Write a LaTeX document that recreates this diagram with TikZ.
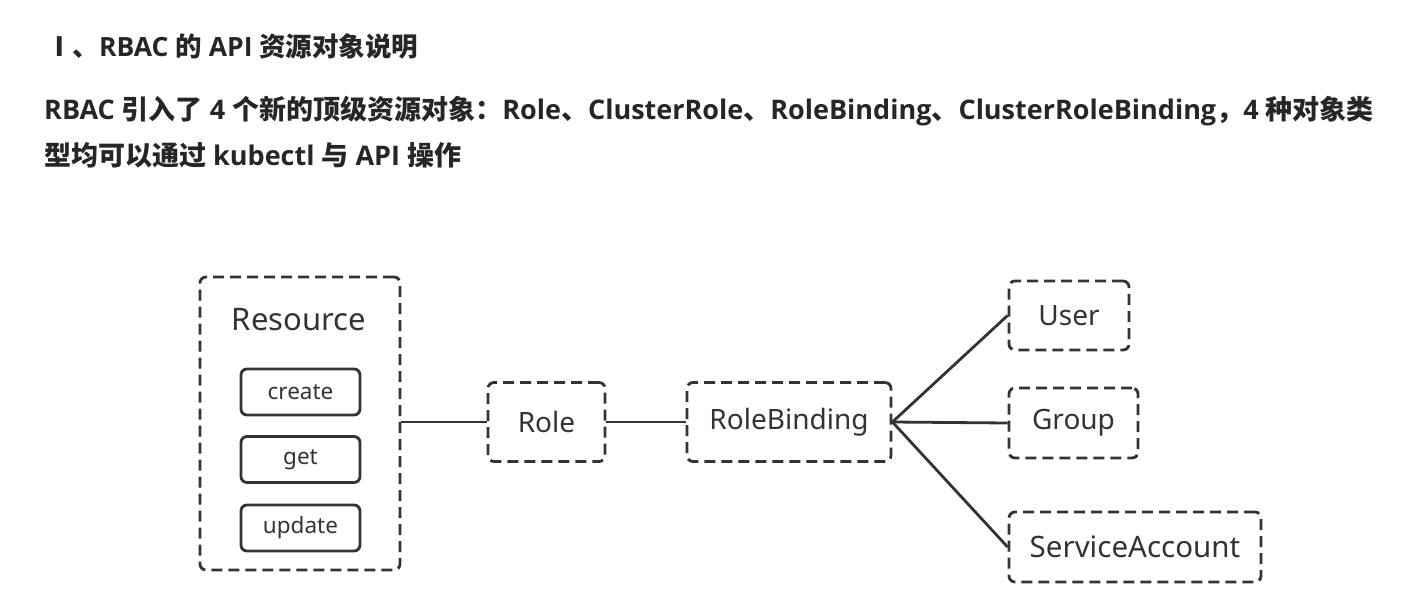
\documentclass[tikz,border=0pt]{standalone}
\usepackage{fontspec}
\setmainfont{Open Sans}
\newfontfamily\cjk{Noto Sans CJK SC}
\newfontfamily\labelfont{Noto Sans}
\newcommand{\zh}[1]{{\cjk #1}}
\definecolor{ink}{HTML}{333333}
\definecolor{textink}{HTML}{262626}

\begin{document}
\begin{tikzpicture}[x=1pt, y=-1pt,
  dashbox/.style = {draw=ink, line width=2.8pt, dash pattern=on 11pt off 6pt,
    rounded corners=6pt, text=ink, inner sep=0pt,
    font=\labelfont\fontsize{28}{30}\selectfont},
  opbox/.style = {draw=ink, line width=2.8pt, rounded corners=6pt,
    minimum width=119pt, minimum height=46pt, text=ink,
    font=\labelfont\fontsize{22.5}{24}\selectfont},
  link/.style = {draw=ink, line width=2.8pt},
  heading/.style = {anchor=west, inner sep=0pt, text=textink}]
\useasboundingbox (0,0) rectangle (1408,607);

% heading text
\node[heading, font=\bfseries\fontsize{26.5}{30}\selectfont] (title) at (46,46)
	{\zh{Ⅰ、}RBAC \zh{的} API \zh{资源对象说明}};
\node[heading, font=\bfseries\fontsize{27}{32}\selectfont] (lineone) at (44,111)
	{RBAC \zh{引入了} 4 \zh{个新的顶级资源对象：}Role\zh{、}ClusterRole\zh{、}RoleBinding\zh{、}ClusterRoleBinding\zh{，}4 \zh{种对象类}};
\node[heading, font=\bfseries\fontsize{27}{32}\selectfont] (linetwo) at (44,155)
	{\zh{型均可以通过} kubectl \zh{与} API \zh{操作}};

% resource and its verbs
\node[dashbox, minimum width=200pt, minimum height=293pt] (resource) at (300,423.5) {};
\node[text=ink, font=\labelfont\fontsize{31}{34}\selectfont] (restitle) at (299,320) {Resource};
\node[opbox] (create) at (300.5,392) {create};
\node[opbox] (get) at (300.5,459.5) {get};
\node[opbox] (update) at (300.5,528) {update};

% role and binding
\node[dashbox, minimum width=117pt, minimum height=79pt] (role) at (546.5,422) {Role};
\node[dashbox, minimum width=204pt, minimum height=79pt] (binding) at (789,422) {RoleBinding};

% subjects
\node[dashbox, minimum width=120pt, minimum height=69pt] (user) at (1069,315.5) {User};
\node[dashbox, minimum width=129pt, minimum height=70pt] (group) at (1073.5,423) {Group};
\node[dashbox, minimum width=252pt, minimum height=70pt, font=\labelfont\fontsize{29.5}{32}\selectfont] (account) at (1135,547) {ServiceAccount};

\draw[link] (resource.east |- role.west) -- (role.west);
\draw[link] (role.east) -- (binding.west);
\draw[link] (binding.east) -- (user.west);
\draw[link] (binding.east) -- (group.west);
\draw[link] (binding.east) -- (account.west);
\end{tikzpicture}
\end{document}
